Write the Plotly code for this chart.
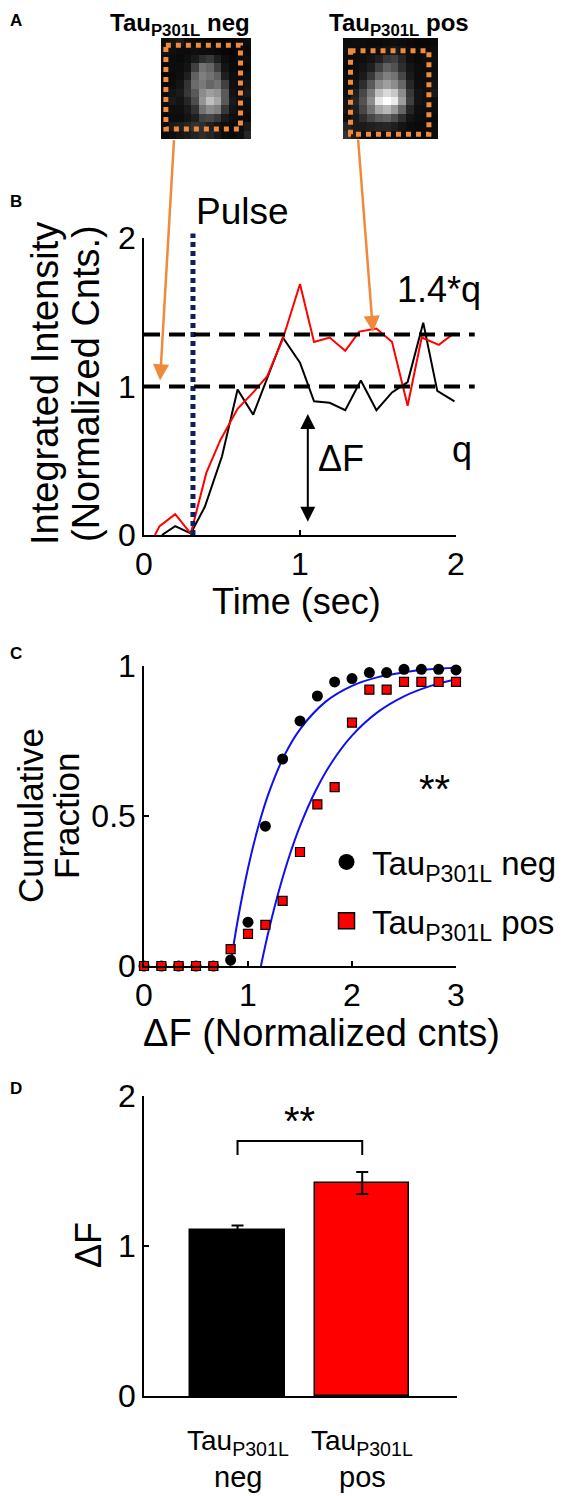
import plotly.graph_objects as go

W, H = 566, 1496
FONT = "Liberation Sans, Arial, sans-serif"

# ---------------- Panel A: example ROI images (grey levels) ----------------
img_neg = [
    [0.05, 0.08, 0.10, 0.05, 0.04, 0.03, 0.02, 0.03, 0.02, 0.02, 0.03, 0.05],
    [0.08, 0.06, 0.05, 0.05, 0.06, 0.05, 0.05, 0.04, 0.03, 0.02, 0.04, 0.04],
    [0.05, 0.05, 0.04, 0.06, 0.10, 0.18, 0.22, 0.12, 0.05, 0.03, 0.04, 0.05],
    [0.04, 0.05, 0.05, 0.08, 0.25, 0.45, 0.40, 0.25, 0.08, 0.04, 0.03, 0.04],
    [0.03, 0.04, 0.06, 0.12, 0.38, 0.50, 0.45, 0.38, 0.12, 0.05, 0.04, 0.05],
    [0.04, 0.05, 0.08, 0.20, 0.42, 0.48, 0.40, 0.45, 0.25, 0.06, 0.05, 0.08],
    [0.05, 0.08, 0.10, 0.22, 0.35, 0.55, 0.62, 0.58, 0.35, 0.08, 0.05, 0.10],
    [0.06, 0.10, 0.08, 0.15, 0.30, 0.58, 0.75, 0.65, 0.35, 0.10, 0.06, 0.06],
    [0.05, 0.06, 0.06, 0.10, 0.20, 0.45, 0.55, 0.50, 0.22, 0.08, 0.05, 0.05],
    [0.04, 0.05, 0.05, 0.08, 0.12, 0.25, 0.28, 0.22, 0.10, 0.05, 0.04, 0.04],
    [0.05, 0.10, 0.12, 0.15, 0.20, 0.18, 0.12, 0.08, 0.05, 0.04, 0.05, 0.10],
    [0.04, 0.06, 0.08, 0.10, 0.14, 0.18, 0.15, 0.10, 0.05, 0.04, 0.06, 0.15],
]
img_pos = [
    [0.05, 0.06, 0.05, 0.04, 0.04, 0.05, 0.06, 0.05, 0.04, 0.03, 0.03, 0.04],
    [0.06, 0.05, 0.05, 0.05, 0.06, 0.08, 0.10, 0.08, 0.05, 0.04, 0.04, 0.05],
    [0.05, 0.05, 0.06, 0.08, 0.12, 0.22, 0.25, 0.15, 0.06, 0.04, 0.05, 0.06],
    [0.04, 0.05, 0.08, 0.12, 0.25, 0.38, 0.32, 0.18, 0.08, 0.05, 0.04, 0.05],
    [0.05, 0.06, 0.10, 0.22, 0.40, 0.50, 0.45, 0.28, 0.10, 0.05, 0.05, 0.06],
    [0.05, 0.08, 0.18, 0.35, 0.55, 0.62, 0.55, 0.40, 0.15, 0.06, 0.05, 0.08],
    [0.06, 0.12, 0.28, 0.48, 0.75, 0.85, 0.78, 0.55, 0.22, 0.08, 0.06, 0.10],
    [0.08, 0.15, 0.32, 0.55, 0.90, 1.00, 0.92, 0.62, 0.25, 0.08, 0.06, 0.06],
    [0.08, 0.12, 0.28, 0.45, 0.65, 0.72, 0.60, 0.40, 0.15, 0.06, 0.05, 0.05],
    [0.06, 0.10, 0.18, 0.28, 0.35, 0.38, 0.30, 0.18, 0.08, 0.05, 0.04, 0.04],
    [0.15, 0.10, 0.10, 0.12, 0.14, 0.15, 0.12, 0.08, 0.05, 0.04, 0.04, 0.05],
    [0.20, 0.12, 0.06, 0.05, 0.06, 0.06, 0.05, 0.05, 0.04, 0.03, 0.04, 0.05],
]
roi_neg = [0.15, 10.1, 0.35, 10.3]
roi_pos = [0.45, 10.35, 1.0, 10.95]
img_titles = ["Tau<sub>P301L</sub> neg", "Tau<sub>P301L</sub> pos"]

# ---------------- Panel B: intensity traces ----------------
t_pos = [0.07, 0.10, 0.20, 0.30, 0.40, 0.49, 0.60, 0.70, 0.79, 0.89, 1.00,
         1.09, 1.19, 1.29, 1.38, 1.49, 1.59, 1.69, 1.78, 1.89, 1.99]
i_pos = [0.0, 0.06, 0.14, 0.01, 0.42, 0.64, 0.85, 0.96, 1.07, 1.32, 1.69,
         1.30, 1.33, 1.24, 1.37, 1.39, 1.30, 0.87, 1.33, 1.28, 1.36]
t_neg = [0.115, 0.20, 0.30, 0.39, 0.50, 0.60, 0.70, 0.80, 0.89, 1.00,
         1.09, 1.19, 1.29, 1.39, 1.49, 1.59, 1.69, 1.79, 1.88, 1.99]
i_neg = [0.0, 0.06, 0.01, 0.19, 0.53, 0.98, 0.81, 1.08, 1.33, 1.16,
         0.90, 0.89, 0.84, 1.04, 0.84, 0.96, 1.03, 1.43, 0.97, 0.90]
pulse_t = 0.314
q_levels = [1.0, 1.35]
dF_arrow = [1.05, 0.09, 0.825]   # time, bottom, top

# ---------------- Panel C: cumulative distributions ----------------
dF_bins = [0.0, 0.167, 0.333, 0.5, 0.667, 0.833, 1.0, 1.167, 1.333, 1.5,
           1.667, 1.833, 2.0, 2.167, 2.333, 2.5, 2.667, 2.833, 3.0]
cf_neg = [0, 0, 0, 0, 0, 0.02, 0.146, 0.466, 0.69, 0.817,
          0.90, 0.947, 0.958, 0.978, 0.978, 0.989, 0.989, 0.989, 0.987]
cf_pos = [0, 0, 0, 0, 0, 0.056, 0.107, 0.137, 0.217, 0.38,
          0.539, 0.596, 0.811, 0.921, 0.921, 0.947, 0.947, 0.947, 0.947]
fit_neg_x = [0.83, 0.9, 1.0, 1.1, 1.2, 1.35, 1.5, 1.75, 2.0, 2.25, 2.5, 2.75, 3.0]
fit_neg_y = [0.0, 0.15, 0.326, 0.466, 0.577, 0.702, 0.789, 0.882, 0.934, 0.963, 0.979, 0.989, 0.994]
fit_pos_x = [1.124, 1.2, 1.3, 1.4, 1.5, 1.65, 1.8, 2.0, 2.25, 2.5, 2.75, 3.0]
fit_pos_y = [0.0, 0.119, 0.254, 0.369, 0.466, 0.584, 0.676, 0.768, 0.847, 0.899, 0.933, 0.956]
legend_names = ["Tau<sub>P301L</sub> neg", "Tau<sub>P301L</sub> pos"]

# ---------------- Panel D: mean dF ----------------
bar_x = [1, 2]
bar_label_top = ["Tau<sub>P301L</sub>", "Tau<sub>P301L</sub>"]
bar_label_bottom = ["neg", "pos"]
bar_mean = [1.107, 1.42]
bar_sem = [0.03, 0.073]
bar_colors = ["#000000", "#ff0000"]
bracket_y = [1.606, 1.70]


def px_x(p):
    return p / W


def px_y(p):
    return 1 - p / H


fig = go.Figure()

# Panel A heatmaps
gray = [[0, "black"], [1, "white"]]
fig.add_trace(go.Heatmap(z=img_neg, colorscale=gray, zmin=0, zmax=1, showscale=False,
                         xaxis="x4", yaxis="y4", hoverinfo="skip"))
fig.add_trace(go.Heatmap(z=img_pos, colorscale=gray, zmin=0, zmax=1, showscale=False,
                         xaxis="x5", yaxis="y5", hoverinfo="skip"))

# Panel B traces
fig.add_trace(go.Scatter(x=t_neg, y=i_neg, mode="lines", line=dict(color="black", width=2),
                         showlegend=False, xaxis="x", yaxis="y"))
fig.add_trace(go.Scatter(x=t_pos, y=i_pos, mode="lines", line=dict(color="#ff0000", width=2),
                         showlegend=False, xaxis="x", yaxis="y"))

# Panel C traces
fig.add_trace(go.Scatter(x=fit_neg_x, y=fit_neg_y, mode="lines", line=dict(color="#1010ee", width=2, shape="spline"),
                         showlegend=False, xaxis="x2", yaxis="y2"))
fig.add_trace(go.Scatter(x=fit_pos_x, y=fit_pos_y, mode="lines", line=dict(color="#1010ee", width=2, shape="spline"),
                         showlegend=False, xaxis="x2", yaxis="y2"))
fig.add_trace(go.Scatter(x=dF_bins, y=cf_neg, mode="markers", cliponaxis=False,
                         marker=dict(symbol="circle", size=11, color="black"),
                         showlegend=False, xaxis="x2", yaxis="y2"))
fig.add_trace(go.Scatter(x=dF_bins, y=cf_pos, mode="markers", cliponaxis=False,
                         marker=dict(symbol="square", size=9, color="#ff0000", line=dict(color="black", width=1.2)),
                         showlegend=False, xaxis="x2", yaxis="y2"))
# legend entries
fig.add_trace(go.Scatter(x=[None], y=[None], mode="markers", name=legend_names[0], legendgroup="a",
                         marker=dict(symbol="circle", size=22, color="black"), xaxis="x2", yaxis="y2"))
fig.add_trace(go.Scatter(x=[None], y=[None], mode="markers", name=legend_names[1], legendgroup="b",
                         marker=dict(symbol="square", size=22, color="#ff0000", line=dict(color="black", width=1.5)),
                         xaxis="x2", yaxis="y2"))

# Panel D bars
fig.add_trace(go.Bar(x=bar_x, y=bar_mean, width=0.756,
                     marker=dict(color=bar_colors, line=dict(color="black", width=1.5)),
                     error_y=dict(type="data", array=bar_sem, color="black", thickness=2, width=6),
                     showlegend=False, xaxis="x3", yaxis="y3"))

tickfont = dict(family=FONT, size=32, color="black")
common = dict(showgrid=False, zeroline=False, showline=True, linecolor="black", linewidth=1.5,
              ticks="inside", ticklen=5, tickwidth=1.5, tickcolor="black", tickfont=tickfont)

layout = dict(
    width=W, height=H, margin=dict(l=0, r=0, t=0, b=0, pad=0, autoexpand=False),
    paper_bgcolor="white", plot_bgcolor="rgba(0,0,0,0)",
    font=dict(family=FONT, color="black"),
    showlegend=True,
    legend=dict(x=px_x(313), y=px_y(826), xanchor="left", yanchor="top",
                font=dict(family=FONT, size=33, color="black"), bgcolor="rgba(0,0,0,0)",
                tracegroupgap=13, itemsizing="trace", itemwidth=41),
    bargap=0,
    # Panel B
    xaxis=dict(domain=[px_x(136), px_x(448)], range=[0, 2], tickvals=[0, 1, 2], anchor="y", **common),
    yaxis=dict(domain=[px_y(527), px_y(230)], range=[0, 2], tickvals=[0, 1, 2], anchor="x", **common),
    # Panel C
    xaxis2=dict(domain=[px_x(136), px_x(448)], range=[0, 3], tickvals=[0, 1, 2, 3], anchor="y2", **common),
    yaxis2=dict(domain=[px_y(958), px_y(658)], range=[0, 1], tickvals=[0, 0.5, 1], anchor="x2", **common),
    # Panel D
    xaxis3=dict(domain=[px_x(136), px_x(449)], range=[0.25, 2.76], tickvals=bar_x, showticklabels=False,
                anchor="y3", showgrid=False, zeroline=False, showline=True, linecolor="black", linewidth=1.5,
                ticks=""),
    yaxis3=dict(domain=[px_y(1388), px_y(1088)], range=[0, 2], tickvals=[0, 1, 2], anchor="x3", **common),
    # Panel A images
    xaxis4=dict(domain=[px_x(153), px_x(243)], range=[-0.5, 11.5], visible=False, anchor="y4"),
    yaxis4=dict(domain=[px_y(131), px_y(30)], range=[11.5, -0.5], visible=False, anchor="x4"),
    xaxis5=dict(domain=[px_x(335), px_x(430)], range=[-0.5, 11.5], visible=False, anchor="y5"),
    yaxis5=dict(domain=[px_y(131), px_y(30)], range=[11.5, -0.5], visible=False, anchor="x5"),
)
fig.update_layout(**layout)

shapes = []
orange = "#f0893b"
for roi, xr, yr in [(roi_neg, "x4", "y4"), (roi_pos, "x5", "y5")]:
    shapes.append(dict(type="rect", xref=xr, yref=yr, x0=roi[0], x1=roi[1], y0=roi[2], y1=roi[3],
                       line=dict(color=orange, width=5, dash="5px,5px")))
# pulse line (slightly above the axis top)
shapes.append(dict(type="line", xref="x", yref="y domain", x0=pulse_t, x1=pulse_t, y0=0, y1=1.015,
                   line=dict(color="#0d1f5c", width=5, dash="5px,4px")))
# q and 1.4*q dashed lines extending past the axis
for q in q_levels:
    shapes.append(dict(type="line", xref="x domain", yref="y", x0=0, x1=1.06, y0=q, y1=q,
                       line=dict(color="black", width=4, dash="16px,9px")))
# bracket in D
shapes.append(dict(type="path", xref="x3", yref="y3",
                   path=f"M {bar_x[0]},{bracket_y[0]} L {bar_x[0]},{bracket_y[1]} L {bar_x[1]},{bracket_y[1]} L {bar_x[1]},{bracket_y[0]}",
                   line=dict(color="black", width=2)))
fig.update_layout(shapes=shapes)

ann = []
C = dict(xanchor="center", yanchor="middle", showarrow=False, xref="paper", yref="paper")


def label(text, x, y, size, angle=0, bold=False):
    t = f"<b>{text}</b>" if bold else text
    ann.append(dict(text=t, x=px_x(x), y=px_y(y), textangle=angle,
                    font=dict(family=FONT, size=size, color="black"), **C))


# panel letters
for letter, yy in [("A", 12), ("B", 193), ("C", 645), ("D", 1080)]:
    label(letter, 8, yy, 17, bold=True)
# image titles
label(img_titles[0], 172, 17, 24, bold=True)
label(img_titles[1], 391, 17, 24, bold=True)
# orange arrows from images to traces
ann.append(dict(x=0.103, y=1.04, xref="x", yref="y", ax=14, ay=-242, showarrow=True, text="",
                arrowhead=2, arrowsize=1.3, arrowwidth=2.5, arrowcolor=orange, standoff=0))
ann.append(dict(x=1.468, y=1.367, xref="x", yref="y", ax=-15, ay=-194, showarrow=True, text="",
                arrowhead=2, arrowsize=1.3, arrowwidth=2.5, arrowcolor=orange, standoff=0))
# dF double arrow
ann.append(dict(x=dF_arrow[0], y=dF_arrow[1], ax=dF_arrow[0], ay=dF_arrow[2], xref="x", yref="y",
                axref="x", ayref="y", showarrow=True, text="", arrowhead=2, startarrowhead=2,
                arrowside="end+start", arrowsize=1.5, startarrowsize=1.5, arrowwidth=2, arrowcolor="black"))
# Panel B labels
label("Pulse", 234, 204, 37)
label("1.4*q", 431, 281, 36)
label("q", 454, 442, 36)
label("ΔF", 333, 450, 36)
# axis titles
label("Integrated Intensity", 37, 376, 38, angle=-90)
label("(Normalized Cnts.)", 78, 376, 38, angle=-90)
label("Time (sec)", 288, 593, 36)
label("Cumulative", 22, 808, 35, angle=-90)
label("Fraction", 58, 808, 35, angle=-90)
label("ΔF (Normalized cnts)", 313, 1025, 38)
label("**", 426, 781, 40)
label("ΔF", 80, 1237, 36, angle=-90)
label("**", 291, 1113, 40)
# category labels of panel D
for bx, top, bottom in zip(bar_x, bar_label_top, bar_label_bottom):
    ann.append(dict(text=top, x=bx, y=px_y(1434), xref="x3", yref="paper", xanchor="center", yanchor="middle",
                    showarrow=False, font=dict(family=FONT, size=28, color="black")))
    ann.append(dict(text=bottom, x=bx, y=px_y(1469), xref="x3", yref="paper", xanchor="center", yanchor="middle",
                    showarrow=False, font=dict(family=FONT, size=29, color="black")))
fig.update_layout(annotations=ann)

fig.write_html("out.html")
